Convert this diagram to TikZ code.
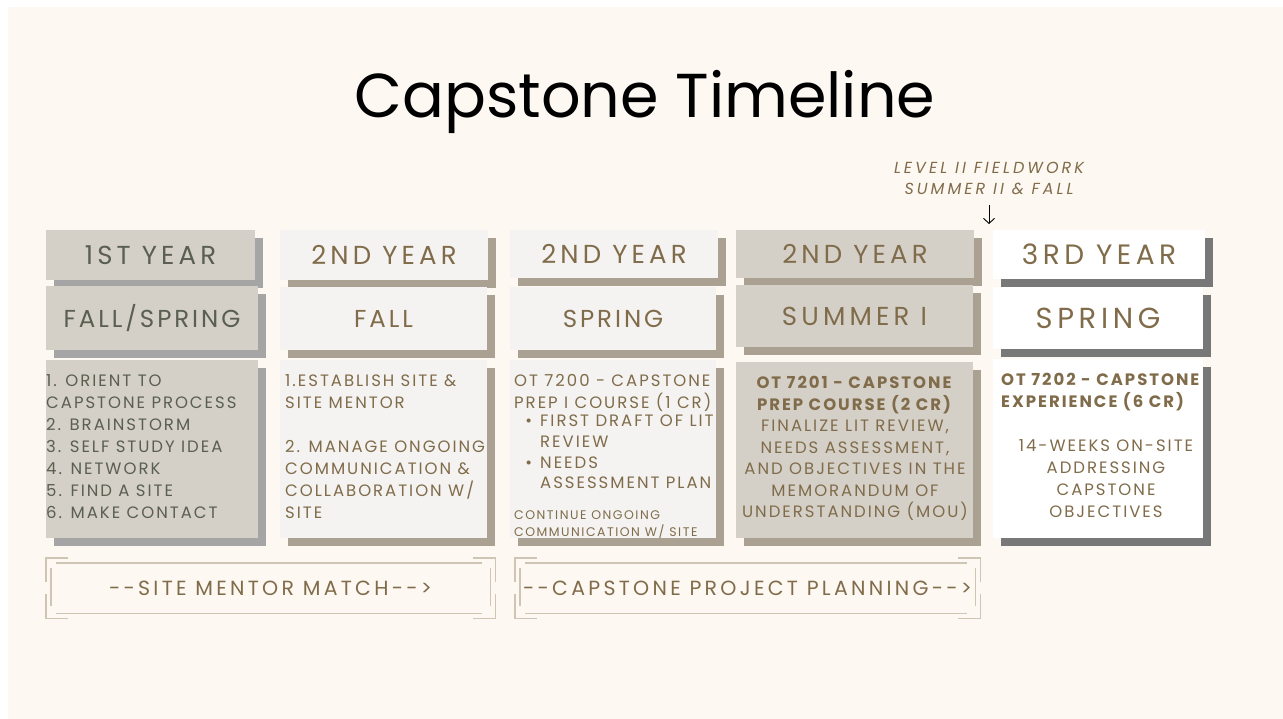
\documentclass[tikz,border=0pt]{standalone}
\usepackage{fontspec}
\setmainfont{Poppins}
\newfontfamily\capsfont[LetterSpace=12]{Poppins}
\newfontfamily\widefont[LetterSpace=16]{Poppins}
\newfontfamily\notefont[LetterSpace=19]{Poppins}
\usetikzlibrary{arrows.meta,shadows}

\definecolor{cream}{RGB}{253,248,242}
\definecolor{stone}{RGB}{212,208,200}
\definecolor{paper}{RGB}{244,243,241}
\definecolor{greyshade}{RGB}{165,165,165}
\definecolor{taupe}{RGB}{171,161,146}
\definecolor{darkshade}{RGB}{120,120,120}
\definecolor{moss}{RGB}{90,95,80}
\definecolor{bronze}{RGB}{128,108,74}
\definecolor{frameline}{RGB}{207,197,181}

\begin{document}
\begin{tikzpicture}[x=1pt,y=-1pt]
	\tikzstyle{box}=[anchor=north west,inner sep=0pt,outer sep=0pt,text=bronze]
	\tikzstyle{greybox}=[box,fill=stone,drop shadow={shadow xshift=8pt,shadow yshift=-8pt,fill=greyshade,opacity=1}]
	\tikzstyle{paperbox}=[box,fill=paper,drop shadow={shadow xshift=8pt,shadow yshift=-8pt,fill=taupe,opacity=1}]
	\tikzstyle{taupebox}=[box,fill=stone,drop shadow={shadow xshift=8pt,shadow yshift=-8pt,fill=taupe,opacity=1}]
	\tikzstyle{whitebox}=[box,fill=white,drop shadow={shadow xshift=8pt,shadow yshift=-8pt,fill=darkshade,opacity=1}]
	\tikzstyle{head}=[font=\widefont\fontsize{26}{30}\selectfont]
	\tikzstyle{term}=[font=\capsfont\fontsize{24.5}{30}\selectfont]
	\tikzstyle{body}=[anchor=north west,align=left,inner sep=0pt,text=bronze,font=\capsfont\fontsize{16.5}{22}\selectfont]
	\tikzstyle{banner}=[inner sep=0pt,text=bronze,font=\widefont\fontsize{20.5}{22}\selectfont]
	\tikzstyle{frame}=[frameline,line width=1.4pt]
	\tikzstyle{fwarrow}=[black,line width=0.9pt,shorten <=10pt,-{Straight Barb[length=5pt,width=11pt]}]
	\useasboundingbox (0,0) rectangle (1283,719);
	\fill [white] (0,0) rectangle (1283,719);
	\fill [cream] (8,7) rectangle (1283,719);
	\node (title) at (645,118) [anchor=base,font=\fontsize{62}{70}\selectfont] {Capstone Timeline};
	% first year
	\node (y1) at (46,230) [greybox,head,text=moss,minimum width=209pt,minimum height=50pt] {1ST YEAR};
	\node (t1) at (46,286) [greybox,term,text=moss,minimum width=212pt,minimum height=64pt] {FALL/SPRING};
	\node (b1) at (46,360) [greybox,minimum width=212pt,minimum height=178pt] {};
	\node (l1) at (46,374) [body,text=moss] {1. ORIENT TO\\CAPSTONE PROCESS\\2. BRAINSTORM\\3. SELF STUDY IDEA\\4. NETWORK\\5. FIND A SITE\\6. MAKE CONTACT};
	% second year, fall
	\node (y2) at (280,230) [paperbox,head,minimum width=208pt,minimum height=50pt] {2ND YEAR};
	\node (t2) at (280,287) [paperbox,term,minimum width=207pt,minimum height=63pt] {FALL};
	\node (b2) at (280,360) [paperbox,minimum width=207pt,minimum height=178pt] {};
	\node (l2) at (285,374) [body] {1.ESTABLISH SITE \&\\SITE MENTOR\\[22pt]2. MANAGE ONGOING\\COMMUNICATION \&\\COLLABORATION W/\\SITE};
	% second year, spring
	\node (y3) at (510,230) [paperbox,head,minimum width=208pt,minimum height=48pt] {2ND YEAR};
	\node (t3) at (510,287) [paperbox,term,minimum width=206pt,minimum height=63pt] {SPRING};
	\node (b3) at (510,360) [paperbox,minimum width=206pt,minimum height=178pt] {};
	\node (l3a) at (514,374) [body] {OT 7200 - CAPSTONE\\PREP I COURSE (1 CR)};
	\node (l3b) at (540,415) [body,font=\capsfont\fontsize{16.5}{20.7}\selectfont] {\llap{•\hspace{8pt}}FIRST DRAFT OF LIT\\REVIEW\\\llap{•\hspace{8pt}}NEEDS\\ASSESSMENT PLAN};
	\node (l3c) at (514,510) [body,font=\capsfont\fontsize{12.5}{17}\selectfont] {CONTINUE ONGOING\\COMMUNICATION W/ SITE};
	% second year, summer
	\node (y4) at (736,230) [taupebox,head,minimum width=238pt,minimum height=48pt] {2ND YEAR};
	\node (t4) at (736,285) [taupebox,head,minimum width=237pt,minimum height=62pt] {SUMMER I};
	\node (b4) at (736,362) [taupebox,minimum width=237pt,minimum height=176pt] {};
	\node (l4) at (855,376) [body,anchor=north,align=center,font=\capsfont\fontsize{16.5}{21.5}\selectfont] {\textbf{OT 7201 - CAPSTONE}\\\textbf{PREP COURSE (2 CR)}\\FINALIZE LIT REVIEW,\\NEEDS ASSESSMENT,\\AND OBJECTIVES IN THE\\MEMORANDUM OF\\UNDERSTANDING (MOU)};
	% third year
	\node (y5) at (993,230) [whitebox,head,font=\widefont\fontsize{28}{30}\selectfont,minimum width=212pt,minimum height=49pt] {3RD YEAR};
	\node (t5) at (993,287) [whitebox,head,font=\widefont\fontsize{29}{30}\selectfont,minimum width=210pt,minimum height=62pt] {SPRING};
	\node (b5) at (993,359) [whitebox,minimum width=210pt,minimum height=179pt] {};
	\node (l5a) at (1001,373) [body] {\textbf{OT 7202 - CAPSTONE}\\\textbf{EXPERIENCE (6 CR)}};
	\node (l5b) at (1106,439) [body,anchor=north,align=center] {14-WEEKS ON-SITE\\ADDRESSING\\CAPSTONE\\OBJECTIVES};
	% fieldwork note
	\node (fw) at (989,162) [anchor=north,align=center,inner sep=0pt,text=bronze,font=\notefont\itshape\fontsize{16}{21}\selectfont] {LEVEL II FIELDWORK\\SUMMER II \& FALL};
	\coordinate (fwtip) at (989,224);
	\draw [fwarrow] (fw) -- (fwtip);
	% banners
	\node (smm) at (270.5,588) [banner,minimum width=449pt,minimum height=60pt] {-{}-SITE MENTOR MATCH-{}->};
	\node (cpp) at (747.5,588) [banner,minimum width=465pt,minimum height=60pt] {-{}-CAPSTONE PROJECT PLANNING-{}->};
	\draw [frame] ([xshift=22pt]smm.north west) -- (smm.north west) -- ([yshift=-24pt]smm.north west)
		([xshift=22pt]smm.south west) -- (smm.south west) -- ([yshift=24pt]smm.south west)
		([xshift=-22pt]smm.north east) -- (smm.north east) -- ([yshift=-24pt]smm.north east)
		([xshift=-22pt]smm.south east) -- (smm.south east) -- ([yshift=24pt]smm.south east);
	\draw [frame] ([xshift=10pt,yshift=-5pt]smm.north west) -- ([xshift=-13pt,yshift=-5pt]smm.north east)
		([xshift=10pt,yshift=5pt]smm.south west) -- ([xshift=-13pt,yshift=5pt]smm.south east)
		([xshift=5pt,yshift=-10pt]smm.north west) -- ([xshift=5pt,yshift=12pt]smm.south west)
		([xshift=-5pt,yshift=-10pt]smm.north east) -- ([xshift=-5pt,yshift=12pt]smm.south east);
	\draw [frame] ([xshift=22pt]cpp.north west) -- (cpp.north west) -- ([yshift=-24pt]cpp.north west)
		([xshift=22pt]cpp.south west) -- (cpp.south west) -- ([yshift=24pt]cpp.south west)
		([xshift=-22pt]cpp.north east) -- (cpp.north east) -- ([yshift=-24pt]cpp.north east)
		([xshift=-22pt]cpp.south east) -- (cpp.south east) -- ([yshift=24pt]cpp.south east);
	\draw [frame] ([xshift=10pt,yshift=-5pt]cpp.north west) -- ([xshift=-13pt,yshift=-5pt]cpp.north east)
		([xshift=10pt,yshift=5pt]cpp.south west) -- ([xshift=-13pt,yshift=5pt]cpp.south east)
		([xshift=5pt,yshift=-10pt]cpp.north west) -- ([xshift=5pt,yshift=12pt]cpp.south west)
		([xshift=-5pt,yshift=-10pt]cpp.north east) -- ([xshift=-5pt,yshift=12pt]cpp.south east);
\end{tikzpicture}
\end{document}
